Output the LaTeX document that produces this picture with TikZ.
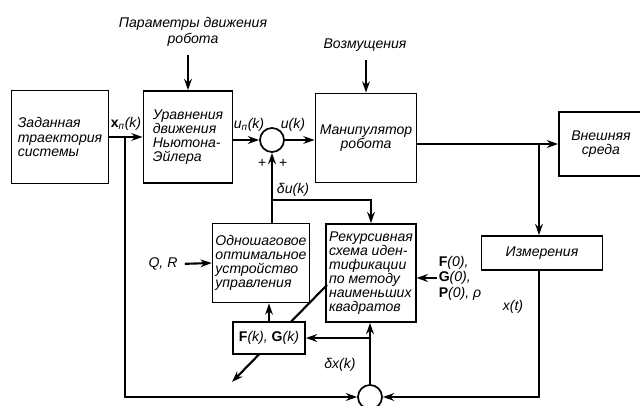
\documentclass[tikz,border=0pt]{standalone}
\usepackage{fontspec}
\setmainfont{Liberation Sans}
\usetikzlibrary{arrows.meta,backgrounds}

\newcommand{\blockfont}{\fontsize{10}{10}\selectfont\itshape}
\newcommand{\sigfont}{\fontsize{10}{11}\selectfont\itshape}

\tikzset{
  block/.style={draw, line width=1.2pt, align=left, inner sep=2pt, font=\blockfont},
  summer/.style={draw, circle, line width=1.2pt, minimum size=0.6cm, inner sep=0pt},
  sig/.style={font=\sigfont, inner sep=1pt},
  flow/.style={line width=1.5pt, -{Stealth[length=8pt,width=5.5pt]}},
}

\begin{document}
\begin{tikzpicture}[x=0.025cm, y=-0.025cm]
  \useasboundingbox (0,0) rectangle (640,406);

  % blocks
  \node[block, minimum width=2.43cm, minimum height=2.33cm] (traj) at (60,137) {Заданная\\траектория\\системы};
  \node[block, minimum width=2.23cm, minimum height=2.3cm] (newton) at (188,137) {Уравнения\\движения\\Ньютона-\\Эйлера};
  \node[summer] (sumu) at (272,140) {};
  \node[block, align=center, minimum width=2.53cm, minimum height=2.23cm] (manip) at (366,138) {Манипулятор\\робота};
  \node[block, align=center, minimum width=2.1cm, minimum height=1.6cm] (env) at (601,144) {Внешняя\\среда};
  \node[block, align=center, minimum width=3.03cm, minimum height=0.85cm] (meas) at (542,253) {Измерения};
  \node[block, minimum width=2.23cm, minimum height=1.98cm] (onestep) at (261,263) {Одношаговое\\оптимальное\\устройство\\управления};
  \node[block, minimum width=2.23cm, minimum height=2.45cm] (recur) at (371,273) {Рекурсивная\\схема иден-\\тификации\\по методу\\наименьших\\квадратов};
  \node[block, fill=white, font=\sigfont, align=center, minimum width=1.8cm, minimum height=0.8cm] (fg) at (269,338) {\textbf{\upshape F}(k), \textbf{\upshape G}(k)};
  \node[summer] (sumx) at (370,397) {};

  % labels
  \node[sig, align=center] (params) at (193,32) {Параметры движения\\робота};
  \node[sig] (dist) at (365,45) {Возмущения};
  \node[sig] (qr) at (163,264) {Q, R};
  \node[sig, align=left] (init) at (460,278) {\textbf{\upshape F}(0),\\\textbf{\upshape G}(0),\\\textbf{\upshape P}(0), ρ};
  \node[sig] (xt) at (513,307) {x(t)};
  \node[sig] (xp) at (126,124) {\textbf{\upshape x}\textsubscript{п}(k)};
  \node[sig] (up) at (249,125) {u\textsubscript{п}(k)};
  \node[sig] (uk) at (293,125) {u(k)};
  \node[sig] (plusa) at (262,163) {+};
  \node[sig] (plusb) at (283,163) {+};
  \node[sig] (du) at (293,190) {δu(k)};
  \node[sig] (dx) at (340,365) {δx(k)};

  % branch points
  \coordinate (xtap) at (125,137);
  \coordinate (ytap) at (539,143);
  \coordinate (utap) at (272,200);
  \coordinate (xdtap) at (370,338);
  \coordinate (tune) at (327,285);
  \coordinate (tuneend) at (232,382);

  % connectors
  \draw[flow] (traj.east) -- (newton.west);
  \draw[flow, shorten <=5pt] (params.south -| newton.north) -- (newton.north);
  \draw[flow] (newton.east |- sumu) -- (sumu.west);
  \draw[flow] (sumu.east) -- (sumu.east -| manip.west);
  \draw[flow, shorten <=5pt] (dist.south -| manip.north) -- (manip.north);
  \draw[flow] (env.west -| manip.east) -- (env.west);
  \draw[flow] (ytap) -- (ytap |- meas.north);
  \draw[flow] (ytap |- meas.south) |- (sumx.east);
  \draw[flow] (xtap) |- (sumx.west);
  \draw[flow] (sumu.south |- onestep.north) -- (sumu.south);
  \draw[flow] (utap) -| (recur.north);
  \draw[flow, shorten <=4pt] (qr.east) -- (onestep.west);
  \draw[flow] (fg.north) -- (fg.north |- onestep.south);
  \draw[flow] (sumx.north) -- (sumx.north |- recur.south);
  \draw[flow] (xdtap) -- (fg.east);
  \draw[flow] (init.west) -- (init.west -| recur.east);
  \begin{scope}[on background layer]
    \draw[flow] (tune) -- (tuneend);
  \end{scope}
\end{tikzpicture}
\end{document}
